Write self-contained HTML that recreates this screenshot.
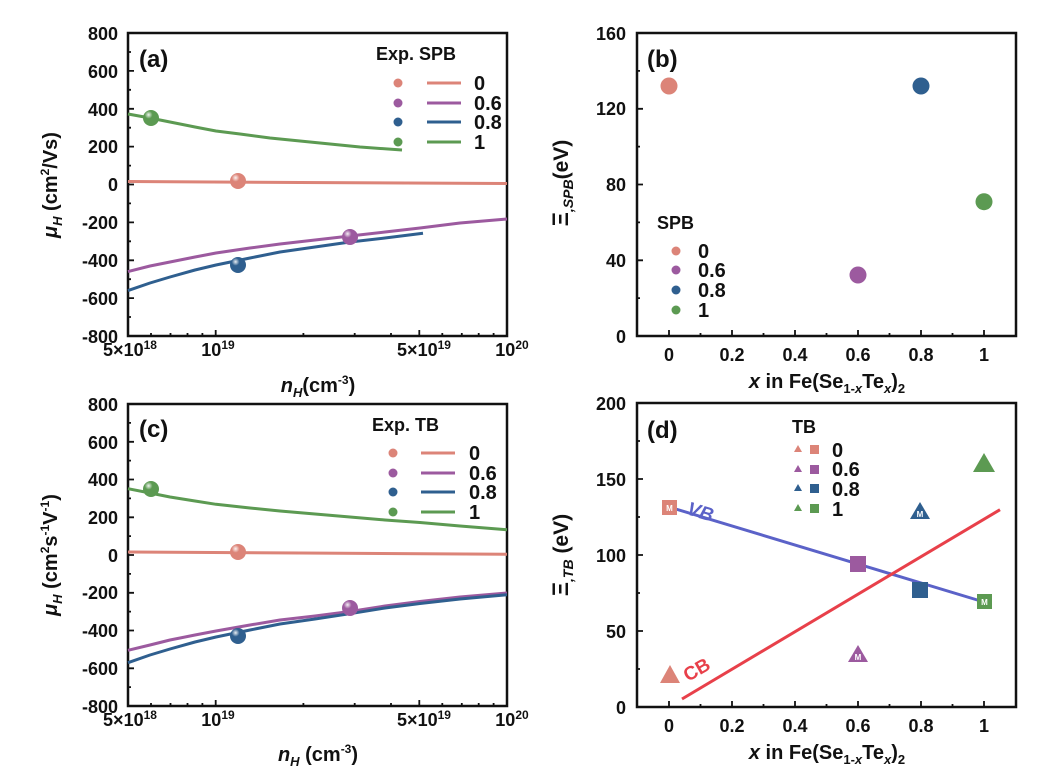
<!DOCTYPE html>
<html><head><meta charset="utf-8"><style>
body{margin:0;background:#fff}
svg{display:block}
text{font-family:"Liberation Sans",Arial,sans-serif;font-weight:bold;fill:#111}
.t{font-size:18px}
.l{font-size:20px}
.ax{fill:none;stroke:#111;stroke-width:2.5}
.tk{stroke:#111;stroke-width:1.8}
</style></head><body>
<svg width="1043" height="784" viewBox="0 0 1043 784" xmlns="http://www.w3.org/2000/svg">
<defs>
<radialGradient id="sh" cx="0.35" cy="0.3" r="0.7"><stop offset="0" stop-color="#fff" stop-opacity="0.9"/><stop offset="0.35" stop-color="#fff" stop-opacity="0"/></radialGradient>
</defs>

<!-- ============ PANEL A ============ -->
<rect class="ax" x="128" y="33" width="379" height="303"/>
<g class="tk">
<path d="M128 33h6M128 70.9h6M128 108.8h6M128 146.6h6M128 184.5h6M128 222.4h6M128 260.3h6M128 298.1h6"/>
<path d="M128 52h3M128 89.8h3M128 127.7h3M128 165.6h3M128 203.4h3M128 241.3h3M128 279.2h3M128 317h3"/>
<path d="M215.7 336v-6M419.3 336v-6M151 336v-3M170.5 336v-3M187.5 336v-3M202.4 336v-3M303.4 336v-3M354.7 336v-3M391 336v-3M442.3 336v-3M461.8 336v-3M478.7 336v-3M493.6 336v-3"/>
</g>
<g class="t" text-anchor="end">
<text x="118" y="40">800</text><text x="118" y="78">600</text><text x="118" y="116">400</text><text x="118" y="153">200</text><text x="118" y="191">0</text><text x="118" y="229">-200</text><text x="118" y="267">-400</text><text x="118" y="305">-600</text><text x="118" y="343">-800</text>
</g>
<g class="t" text-anchor="middle">
<text x="130" y="356">5×10<tspan font-size="12" dy="-7">18</tspan></text>
<text x="218" y="356">10<tspan font-size="12" dy="-7">19</tspan></text>
<text x="424" y="356">5×10<tspan font-size="12" dy="-7">19</tspan></text>
<text x="512" y="356">10<tspan font-size="12" dy="-7">20</tspan></text>
</g>
<text x="318" y="392" text-anchor="middle" font-size="20"><tspan font-style="italic">n<tspan font-size="13" dy="5">H</tspan></tspan><tspan dy="-5">(cm</tspan><tspan font-size="12" dy="-8">-3</tspan><tspan dy="8">)</tspan></text>
<text transform="translate(57,185) rotate(-90)" text-anchor="middle" font-size="20"><tspan font-style="italic">μ<tspan font-size="13" dy="5">H</tspan></tspan><tspan dy="-5"> (cm</tspan><tspan font-size="12" dy="-8">2</tspan><tspan dy="8">/Vs)</tspan></text>
<text x="139" y="67" font-size="24">(a)</text>
<text class="t" x="376" y="60">Exp. SPB</text>
<g stroke-width="3" fill="none" stroke-linejoin="round">
<polyline stroke="#5c9a52" points="128,114 150,118 170,122 195,127 216,131 240,134 270,138 300,141 330,144 360,147 402,150"/>
<polyline stroke="#dc8478" points="128,181.5 300,182.5 507,183.5"/>
<polyline stroke="#9c5a9f" points="128,271.6 150,266 170,262 195,257 216,253 250,248 280,244 315,240 350,236 385,232 420,228 460,223 507,219"/>
<polyline stroke="#2f5f8f" points="128,290.6 150,283 170,277 195,270 216,265 250,258 280,252 315,247 350,242 385,238 423,233.3"/>
</g>
<circle cx="151" cy="118" r="8" fill="#5c9a52"/><circle cx="151" cy="118" r="8" fill="url(#sh)"/>
<circle cx="238" cy="181" r="8" fill="#dc8478"/><circle cx="238" cy="181" r="8" fill="url(#sh)"/>
<circle cx="350" cy="237" r="8" fill="#9c5a9f"/><circle cx="350" cy="237" r="8" fill="url(#sh)"/>
<circle cx="238" cy="265" r="8" fill="#2f5f8f"/><circle cx="238" cy="265" r="8" fill="url(#sh)"/>
<circle cx="398" cy="83" r="4.5" fill="#dc8478"/><circle cx="398" cy="103" r="4.5" fill="#9c5a9f"/><circle cx="398" cy="122" r="4.5" fill="#2f5f8f"/><circle cx="398" cy="142" r="4.5" fill="#5c9a52"/>
<g stroke-width="3"><path stroke="#dc8478" d="M427 83h34"/><path stroke="#9c5a9f" d="M427 103h34"/><path stroke="#2f5f8f" d="M427 122h34"/><path stroke="#5c9a52" d="M427 142h34"/></g>
<g class="l"><text x="474" y="90">0</text><text x="474" y="110">0.6</text><text x="474" y="129">0.8</text><text x="474" y="149">1</text></g>

<!-- ============ PANEL B ============ -->
<rect class="ax" x="637" y="33" width="379" height="303"/>
<g class="tk">
<path d="M637 33h6M637 108.8h6M637 184.5h6M637 260.3h6M637 70.9h3M637 146.6h3M637 222.4h3M637 298.1h3"/>
<path d="M669 336v-6M732 336v-6M795 336v-6M858 336v-6M921 336v-6M984 336v-6M700.5 336v-3M763.5 336v-3M826.5 336v-3M889.5 336v-3M952.5 336v-3"/>
</g>
<g class="t" text-anchor="end">
<text x="626" y="40">160</text><text x="626" y="115">120</text><text x="626" y="191">80</text><text x="626" y="267">40</text><text x="626" y="343">0</text>
</g>
<g class="t" text-anchor="middle">
<text x="669" y="361">0</text><text x="732" y="361">0.2</text><text x="795" y="361">0.4</text><text x="858" y="361">0.6</text><text x="921" y="361">0.8</text><text x="984" y="361">1</text>
</g>
<text x="827" y="388" text-anchor="middle" font-size="20"><tspan font-style="italic">x</tspan> in Fe(Se<tspan font-size="13" dy="5">1-<tspan font-style="italic">x</tspan></tspan><tspan dy="-5">Te</tspan><tspan font-size="13" dy="5" font-style="italic">x</tspan><tspan dy="-5">)</tspan><tspan font-size="13" dy="5">2</tspan></text>
<text transform="translate(568,183) rotate(-90)" text-anchor="middle" font-size="22">Ξ<tspan font-size="14" dy="5" font-style="italic">,SPB</tspan><tspan dy="-5" font-size="21">(eV)</tspan></text>
<text x="647" y="67" font-size="24">(b)</text>
<circle cx="669" cy="86" r="8.5" fill="#dc8478"/>
<circle cx="921" cy="86" r="8.5" fill="#2f5f8f"/>
<circle cx="858" cy="275" r="8.5" fill="#9c5a9f"/>
<circle cx="984" cy="201.7" r="8.5" fill="#5c9a52"/>
<text class="t" x="657" y="229">SPB</text>
<circle cx="676" cy="251" r="4.5" fill="#dc8478"/><circle cx="676" cy="270" r="4.5" fill="#9c5a9f"/><circle cx="676" cy="290" r="4.5" fill="#2f5f8f"/><circle cx="676" cy="310" r="4.5" fill="#5c9a52"/>
<g class="l"><text x="698" y="258">0</text><text x="698" y="277">0.6</text><text x="698" y="297">0.8</text><text x="698" y="317">1</text></g>

<!-- ============ PANEL C ============ -->
<rect class="ax" x="128" y="404" width="379" height="302"/>
<g class="tk">
<path d="M128 404h6M128 441.8h6M128 479.5h6M128 517.3h6M128 555h6M128 592.8h6M128 630.5h6M128 668.3h6"/>
<path d="M128 422.9h3M128 460.6h3M128 498.4h3M128 536.1h3M128 573.9h3M128 611.6h3M128 649.4h3M128 687.1h3"/>
<path d="M215.7 706v-6M419.3 706v-6M151 706v-3M170.5 706v-3M187.5 706v-3M202.4 706v-3M303.4 706v-3M354.7 706v-3M391 706v-3M442.3 706v-3M461.8 706v-3M478.7 706v-3M493.6 706v-3"/>
</g>
<g class="t" text-anchor="end">
<text x="118" y="411">800</text><text x="118" y="449">600</text><text x="118" y="486">400</text><text x="118" y="524">200</text><text x="118" y="562">0</text><text x="118" y="599">-200</text><text x="118" y="637">-400</text><text x="118" y="675">-600</text><text x="118" y="713">-800</text>
</g>
<g class="t" text-anchor="middle">
<text x="130" y="726">5×10<tspan font-size="12" dy="-7">18</tspan></text>
<text x="218" y="726">10<tspan font-size="12" dy="-7">19</tspan></text>
<text x="424" y="726">5×10<tspan font-size="12" dy="-7">19</tspan></text>
<text x="512" y="726">10<tspan font-size="12" dy="-7">20</tspan></text>
</g>
<text x="318" y="761" text-anchor="middle" font-size="20"><tspan font-style="italic">n<tspan font-size="13" dy="5">H</tspan></tspan><tspan dy="-5"> (cm</tspan><tspan font-size="12" dy="-8">-3</tspan><tspan dy="8">)</tspan></text>
<text transform="translate(57,555) rotate(-90)" text-anchor="middle" font-size="20"><tspan font-style="italic">μ<tspan font-size="13" dy="5">H</tspan></tspan><tspan dy="-5"> (cm</tspan><tspan font-size="12" dy="-8">2</tspan><tspan dy="8">s</tspan><tspan font-size="12" dy="-8">-1</tspan><tspan dy="8">V</tspan><tspan font-size="12" dy="-8">-1</tspan><tspan dy="8">)</tspan></text>
<text x="139" y="437" font-size="24">(c)</text>
<text class="t" x="372" y="431">Exp.  TB</text>
<g stroke-width="3" fill="none" stroke-linejoin="round">
<polyline stroke="#5c9a52" points="128,488.7 150,493 170,497 195,501 216,504.3 250,508 280,511 315,514 350,517 385,520 420,522.5 460,526 507,529.7"/>
<polyline stroke="#dc8478" points="128,552 300,553 507,554.3"/>
<polyline stroke="#9c5a9f" points="128,650.3 150,645 170,640 195,635 216,631 250,625 280,620 315,616 350,611.5 385,606 420,601.5 460,597 507,593"/>
<polyline stroke="#2f5f8f" points="128,662.7 150,655 170,649 195,642 216,637 250,630 280,624 315,619 350,613.7 385,608 420,603.5 460,599 507,594.7"/>
</g>
<circle cx="151" cy="489" r="8" fill="#5c9a52"/><circle cx="151" cy="489" r="8" fill="url(#sh)"/>
<circle cx="238" cy="552" r="8" fill="#dc8478"/><circle cx="238" cy="552" r="8" fill="url(#sh)"/>
<circle cx="350" cy="608" r="8" fill="#9c5a9f"/><circle cx="350" cy="608" r="8" fill="url(#sh)"/>
<circle cx="238" cy="636" r="8" fill="#2f5f8f"/><circle cx="238" cy="636" r="8" fill="url(#sh)"/>
<circle cx="393" cy="453" r="4.5" fill="#dc8478"/><circle cx="393" cy="473" r="4.5" fill="#9c5a9f"/><circle cx="393" cy="492" r="4.5" fill="#2f5f8f"/><circle cx="393" cy="512" r="4.5" fill="#5c9a52"/>
<g stroke-width="3"><path stroke="#dc8478" d="M421 453h34"/><path stroke="#9c5a9f" d="M421 473h34"/><path stroke="#2f5f8f" d="M421 492h34"/><path stroke="#5c9a52" d="M421 512h34"/></g>
<g class="l"><text x="469" y="460">0</text><text x="469" y="480">0.6</text><text x="469" y="499">0.8</text><text x="469" y="519">1</text></g>

<!-- ============ PANEL D ============ -->
<rect class="ax" x="637" y="403" width="379" height="304"/>
<g class="tk">
<path d="M637 403h6M637 479h6M637 555h6M637 631h6M637 441h3M637 517h3M637 593h3M637 669h3"/>
<path d="M669 707v-6M732 707v-6M795 707v-6M858 707v-6M921 707v-6M984 707v-6M700.5 707v-3M763.5 707v-3M826.5 707v-3M889.5 707v-3M952.5 707v-3"/>
</g>
<g class="t" text-anchor="end">
<text x="626" y="410">200</text><text x="626" y="486">150</text><text x="626" y="562">100</text><text x="626" y="638">50</text><text x="626" y="714">0</text>
</g>
<g class="t" text-anchor="middle">
<text x="669" y="732">0</text><text x="732" y="732">0.2</text><text x="795" y="732">0.4</text><text x="858" y="732">0.6</text><text x="921" y="732">0.8</text><text x="984" y="732">1</text>
</g>
<text x="827" y="759" text-anchor="middle" font-size="20"><tspan font-style="italic">x</tspan> in Fe(Se<tspan font-size="13" dy="5">1-<tspan font-style="italic">x</tspan></tspan><tspan dy="-5">Te</tspan><tspan font-size="13" dy="5" font-style="italic">x</tspan><tspan dy="-5">)</tspan><tspan font-size="13" dy="5">2</tspan></text>
<text transform="translate(568,555) rotate(-90)" text-anchor="middle" font-size="22">Ξ<tspan font-size="14" dy="5" font-style="italic">,TB</tspan><tspan dy="-5" font-size="21"> (eV)</tspan></text>
<text x="647" y="438" font-size="24">(d)</text>
<path d="M669 507L984 602" stroke="#5b62c8" stroke-width="3"/>
<path d="M682 699L1000 509.7" stroke="#e8404a" stroke-width="3"/>
<text x="0" y="0" font-size="19" style="fill:#5b62c8;font-style:italic" transform="translate(686,514) rotate(17)">VB</text>
<text x="0" y="0" font-size="19" style="fill:#e8404a" transform="translate(688,682) rotate(-30)">CB</text>
<rect x="662" y="500" width="15" height="15" fill="#dc8478"/><text x="669.5" y="511" font-size="8" text-anchor="middle" style="fill:#fff">M</text>
<rect x="850" y="556" width="16" height="16" fill="#9c5a9f"/>
<rect x="912" y="582" width="16" height="16" fill="#2f5f8f"/>
<rect x="977" y="594" width="15" height="15" fill="#5c9a52"/><text x="984.5" y="605" font-size="8" text-anchor="middle" style="fill:#fff">M</text>
<path d="M670 665L680 683H660Z" fill="#dc8478"/>
<path d="M858 645L868 662H848Z" fill="#9c5a9f"/><text x="858" y="660" font-size="8" text-anchor="middle" style="fill:#fff">M</text>
<path d="M920 502L930 519H910Z" fill="#2f5f8f"/><text x="920" y="517" font-size="8" text-anchor="middle" style="fill:#fff">M</text>
<path d="M984 453L995 472H973Z" fill="#5c9a52"/>
<text class="t" x="792" y="433">TB</text>
<g>
<path d="M798 445l4 7h-8z" fill="#dc8478"/><rect x="810" y="445" width="9" height="9" fill="#dc8478"/>
<path d="M798 465l4 7h-8z" fill="#9c5a9f"/><rect x="810" y="465" width="9" height="9" fill="#9c5a9f"/>
<path d="M798 484l4 7h-8z" fill="#2f5f8f"/><rect x="810" y="484" width="9" height="9" fill="#2f5f8f"/>
<path d="M798 504l4 7h-8z" fill="#5c9a52"/><rect x="810" y="504" width="9" height="9" fill="#5c9a52"/>
</g>
<g class="l"><text x="832" y="457">0</text><text x="832" y="476">0.6</text><text x="832" y="496">0.8</text><text x="832" y="516">1</text></g>
</svg>
</body></html>
